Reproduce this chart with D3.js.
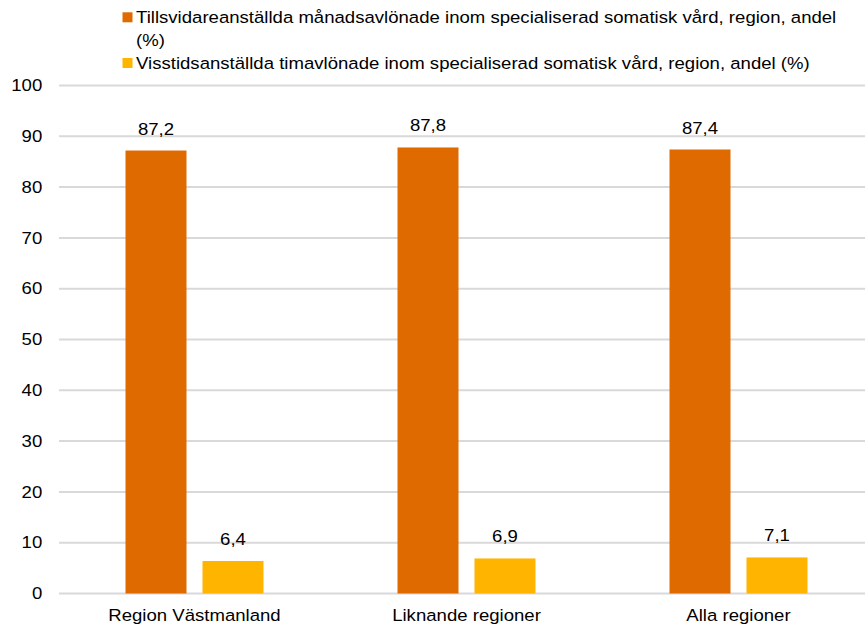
<!DOCTYPE html>
<html><head><meta charset="utf-8">
<script src="https://cdn.jsdelivr.net/npm/d3@7"></script>
<style>body{margin:0;background:#fff;} svg{display:block;font-family:"Liberation Sans",Arial,sans-serif;}</style>
</head><body>
<svg id="c" width="865" height="625"></svg>
<script>
const categories = ["Region Västmanland", "Liknande regioner", "Alla regioner"];
const seriesNames = [
  "Tillsvidareanställda månadsavlönade inom specialiserad somatisk vård, region, andel (%)",
  "Visstidsanställda timavlönade inom specialiserad somatisk vård, region, andel (%)"
];
const tillsvidare = [87.2, 87.8, 87.4];
const visstid = [6.4, 6.9, 7.1];
const yTicks = [0, 10, 20, 30, 40, 50, 60, 70, 80, 90, 100];
const colors = ["#DF6A00", "#FFB500"];

(function () {
const svg = d3.select("#c");
const mLeft = 59, mRight = 874.5, mTop = 85.5, mBottom = 593.5;
const x = d3.scaleBand().domain(categories).range([58.5, mRight]);
const y = d3.scaleLinear().domain([0, 100]).range([mBottom, mTop]);
const barW = 61, gap = 16;
const fs = 16.3, sx = 1.14;
const stretch = (sel, origin) => sel
  .style("transform-box", "fill-box")
  .style("transform-origin", origin)
  .style("transform", `scaleX(${sx})`);

// gridlines
svg.append("g").selectAll("line").data(yTicks).join("line")
  .attr("x1", mLeft).attr("x2", mRight)
  .attr("y1", d => y(d)).attr("y2", d => y(d))
  .attr("stroke", "#D9D9D9").attr("stroke-width", 2);

// y axis labels
const yAxis = d3.axisLeft(y).tickValues(yTicks).tickSize(0).tickPadding(0).tickFormat(d3.format("d"));
const ga = svg.append("g").attr("transform", `translate(42.3,0)`).call(yAxis);
ga.select(".domain").remove();
ga.selectAll("text").attr("font-size", fs).attr("fill", "#000").attr("font-family", "Liberation Sans, Arial, sans-serif");
stretch(ga.selectAll("text"), "100% 50%");

const series = [tillsvidare, visstid];
const fmt = v => d3.format(".1f")(v).replace(".", ",");
series.forEach((vals, si) => {
  const off = si === 0 ? -gap / 2 - barW : gap / 2;
  const g = svg.append("g");
  g.selectAll("rect").data(vals).join("rect")
    .attr("x", (d, i) => x(categories[i]) + x.bandwidth() / 2 + off)
    .attr("width", barW)
    .attr("y", d => y(d))
    .attr("height", d => y(0) - y(d))
    .attr("fill", colors[si]);
  const t = g.selectAll("text").data(vals).join("text")
    .attr("x", (d, i) => x(categories[i]) + x.bandwidth() / 2 + off + barW / 2)
    .attr("y", d => y(d) - 16)
    .attr("text-anchor", "middle")
    .attr("font-size", fs)
    .attr("fill", "#000")
    .text(fmt);
  stretch(t, "50% 50%");
});

// x axis labels
const xAxis = d3.axisBottom(x).tickSize(0).tickPadding(0);
const gx = svg.append("g").attr("transform", `translate(0,${mBottom + 12})`).call(xAxis);
gx.select(".domain").remove();
gx.selectAll("text").attr("font-size", fs).attr("fill", "#000").attr("dy", "0.95em").attr("font-family", "Liberation Sans, Arial, sans-serif");
stretch(gx.selectAll("text"), "50% 50%");

// legend
const leg = svg.append("g");
const legLines = [[seriesNames[0].replace(" (%)", ""), "(%)"], [seriesNames[1]]];
const legY = [23.3, 69];
legLines.forEach((lines, i) => {
  leg.append("rect").attr("x", 122.5).attr("y", legY[i] - 11).attr("width", 10).attr("height", 10).attr("fill", colors[i]);
  lines.forEach((t, j) => {
    const tx = leg.append("text").attr("x", 136).attr("y", legY[i] + j * 23).attr("font-size", fs).attr("fill", "#000").text(t);
    stretch(tx, "0% 50%");
  });
});
})();
</script>
</body></html>
